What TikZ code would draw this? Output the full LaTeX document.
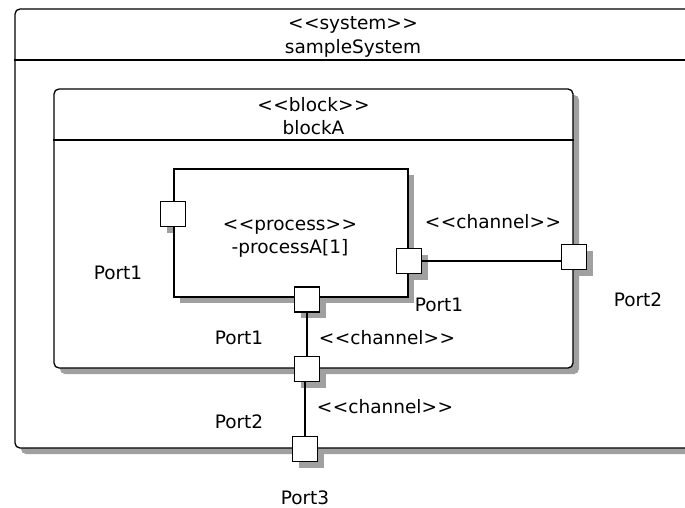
\documentclass[tikz,border=0pt]{standalone}
\usepackage{fontspec}
\setmainfont{DejaVu Sans}
\usepackage{tikz}
\usetikzlibrary{positioning,shadows}
\definecolor{shadecol}{RGB}{160,160,160}

% stereotype brackets, kerned so that << and >> are not merged
\newcommand{\stereo}[1]{<\kern0.5pt<#1>\kern0.5pt>}

\begin{document}
\begin{tikzpicture}[
  x=1pt, y=-1pt,
  font=\fontsize{18.5}{23.5}\selectfont,
  box/.style={rectangle, draw, line width=1.3pt, fill=white,
              general shadow={fill=shadecol, shadow xshift=6pt, shadow yshift=-6pt}},
  port/.style={rectangle, draw, line width=1.5pt, fill=white,
               minimum size=25pt, inner sep=0pt},
  portshade/.style={fill=shadecol},
  title/.style={align=center, inner sep=0pt},
  conn/.style={line width=1.3pt}
]
  \clip (0,0) rectangle (685,508);

  % Port positions
  \coordinate (sBpos) at (305,449);
  \coordinate (bBpos) at (307,369);
  \coordinate (bRpos) at (574,257);
  \coordinate (pLpos) at (173,214);
  \coordinate (pBpos) at (307,299.5);
  \coordinate (pRpos) at (409,261);

  % System
  \fill[portshade, shift={(sBpos)}] (-6.5,-6.5) rectangle (18.5,18.5);
  \node[box, rounded corners=5pt, minimum width=676pt, minimum height=439pt]
    (sys) at (353,228.5) {};
  \node[title] (systitle) at (353,37) {\stereo{system}\\sampleSystem};
  \draw[line width=1.3pt] (sys.west |- 0,60) -- (sys.east |- 0,60);

  % Block
  \foreach \p in {bBpos,bRpos}
    \fill[portshade, shift={(\p)}] (-6.5,-6.5) rectangle (18.5,18.5);
  \node[box, rounded corners=5pt, minimum width=519pt, minimum height=279pt]
    (blk) at (313.5,228.5) {};
  \node[title] (blktitle) at (313.5,116) {\stereo{block}\\blockA};
  \draw[line width=1.3pt] (blk.west |- 0,140) -- (blk.east |- 0,140);

  % Process
  \foreach \p in {pLpos,pBpos,pRpos}
    \fill[portshade, shift={(\p)}] (-6.5,-6.5) rectangle (18.5,18.5);
  \node[box, minimum width=234pt, minimum height=128pt]
    (proc) at (291,233) {};
  \node[title] (proctitle) at (290,238.5) {\stereo{process}\\-processA[1]};

  % Ports
  \node[port] (pL) at (pLpos) {};
  \node[port] (pB) at (pBpos) {};
  \node[port] (pR) at (pRpos) {};
  \node[port] (bR) at (bRpos) {};
  \node[port] (bB) at (bBpos) {};
  \node[port] (sB) at (sBpos) {};

  % Port labels
  \node (pLlab) at (118,273) {Port1};
  \node (pBlab) at (239,338) {Port1};
  \node (pRlab) at (439,305) {Port1};
  \node (bRlab) at (638,300) {Port2};
  \node (bBlab) at (239,422) {Port2};
  \node (sBlab) at (305,498) {Port3};

  % Channels
  \draw[conn] (pR.east) -- (pR.east -| bR.west);
  \draw[conn] (pB.south) -- (bB.north);
  \draw[conn] (bB.south -| sB) -- (sB.north);
  \node (ch1) at (493,222) {\stereo{channel}};
  \node (ch2) at (387,338) {\stereo{channel}};
  \node (ch3) at (385,407) {\stereo{channel}};
\end{tikzpicture}
\end{document}
